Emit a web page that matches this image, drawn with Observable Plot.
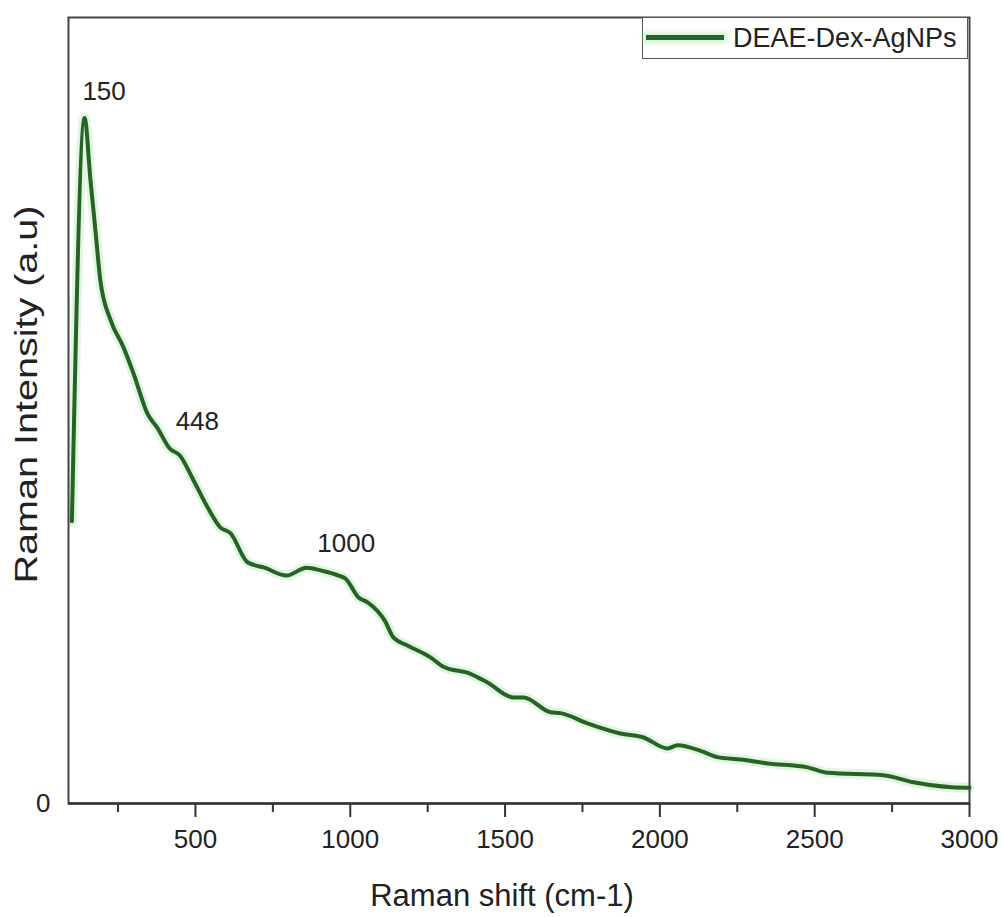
<!DOCTYPE html>
<html>
<head>
<meta charset="utf-8">
<script src="https://cdn.jsdelivr.net/npm/d3@7"></script>
<script src="https://cdn.jsdelivr.net/npm/@observablehq/plot@0.6"></script>
<style>
  html, body { margin: 0; padding: 0; background: #fff; }
  #wrap { position: relative; width: 1003px; height: 917px; font-family: "Liberation Sans", Arial, sans-serif; }
  #legend { position: absolute; left: 642px; top: 17px; width: 326px; height: 42px; border: 1.5px solid #555; background: #fff; box-sizing: border-box; }
  #legend .swatch { position: absolute; left: 3px; top: 17px; width: 78px; height: 5px; background: #276227; box-shadow: 0 0 5px 3px rgba(150,225,150,0.45); }
  #legend .lbl { position: absolute; left: 90px; top: 4px; font-size: 27px; line-height: 32px; color: #222; white-space: nowrap; }
</style>
</head>
<body>
<div id="wrap">
  <div id="legend"><div class="swatch"></div><div class="lbl">DEAE-Dex-AgNPs</div></div>
</div>
<script>
// Raman shift (cm-1)
const shift = [101, 142, 161, 177, 193, 226, 268, 300, 345, 377, 416, 449, 494, 539, 581, 613, 668, 723, 794, 859, 910, 962, 985, 1027, 1056, 1111, 1140, 1185, 1259, 1301, 1388, 1443, 1527, 1560, 1647, 1679, 1766, 1873, 1947, 2025, 2057, 2131, 2186, 2261, 2348, 2477, 2542, 2722, 2819, 2994, 3000];
// Raman intensity (a.u.)
const intensity = [359, 872, 793, 729, 665, 615, 580, 547, 496, 478, 452, 443, 411, 377, 351, 344, 307, 300, 290, 300, 296, 290, 286, 262, 256, 233, 211, 201, 186, 174, 165, 154, 135, 135, 116, 115, 102, 89, 84, 70, 74, 67, 59, 56, 51, 46, 39, 36, 27, 20, 20];
// peak annotations
const peakLabels = ["150", "448", "1000"];
const peakShift = [150, 448, 1000];
// axis ticks
const xMajorTicks = [500, 1000, 1500, 2000, 2500, 3000];
const xMinorTicks = [250, 750, 1250, 1750, 2250, 2750];
const yTicks = [0];

const data = shift.map((x, i) => ({x, y: intensity[i]}));
const interp = d3.scaleLinear().domain(shift).range(intensity);
const peaks = peakShift.map((x, i) => ({x, y: interp(x), label: peakLabels[i]}));

const green = "#276227";
const font = "\"Liberation Sans\", Arial, sans-serif";

const chart = Plot.plot({
  width: 1003,
  height: 917,
  marginLeft: 68,
  marginRight: 34,
  marginTop: 17,
  marginBottom: 114,
  style: {fontFamily: font, color: "#222", background: "#fff"},
  x: {domain: [90, 3000]},
  y: {domain: [0, 1000]},
  marks: [
    Plot.line(data, {x: "x", y: "y", stroke: "#9be29b", strokeWidth: 10, strokeOpacity: 0.3, curve: "monotone-x"}),
    Plot.line(data, {x: "x", y: "y", stroke: green, strokeWidth: 4, curve: "monotone-x"}),
    Plot.frame({stroke: "#444", strokeWidth: 2}),
    Plot.ruleY(yTicks, {stroke: "#333", strokeWidth: 2.5}),
    Plot.axisX({ticks: xMinorTicks, tickSize: 9, tickFormat: null, text: null, stroke: "#333", strokeWidth: 2, label: null}),
    Plot.axisX({ticks: xMajorTicks, tickSize: 14, tickPadding: 12, fontSize: 26, stroke: "#333", strokeWidth: 2, label: null, tickFormat: d => String(d)}),
    Plot.axisY({ticks: yTicks, tickSize: 0, tickPadding: 18, fontSize: 26, label: null}),
    Plot.text([peaks[0]], {x: "x", y: "y", text: "label", fontSize: 26, fill: "#222", dx: 17, dy: -53, lineAnchor: "middle"}),
    Plot.text([peaks[1]], {x: "x", y: "y", text: "label", fontSize: 26, fill: "#222", dx: 18, dy: -33, lineAnchor: "middle"}),
    Plot.text([peaks[2]], {x: "x", y: "y", text: "label", fontSize: 26, fill: "#222", dx: -4, dy: -42, lineAnchor: "middle"}),
    Plot.text(["Raman shift (cm-1)"], {frameAnchor: "bottom", text: d => d, fontSize: 31, fill: "#222", dx: -17, dy: 93, lineAnchor: "middle"}),
    Plot.text(["Raman Intensity (a.u)"], {frameAnchor: "left", text: d => d, fontSize: 31, fill: "#222", rotate: -90, textAnchor: "start", dx: -41, dy: 173, lineAnchor: "middle"})
  ]
});

document.getElementById("wrap").insertBefore(chart, document.getElementById("legend"));
chart.style.position = "absolute";
chart.style.left = "0";
chart.style.top = "0";
chart.querySelectorAll("text").forEach(t => {
  if (t.textContent === "Raman Intensity (a.u)") {
    t.setAttribute("textLength", 378);
    t.setAttribute("lengthAdjust", "spacingAndGlyphs");
  }
});
</script>
</body>
</html>
